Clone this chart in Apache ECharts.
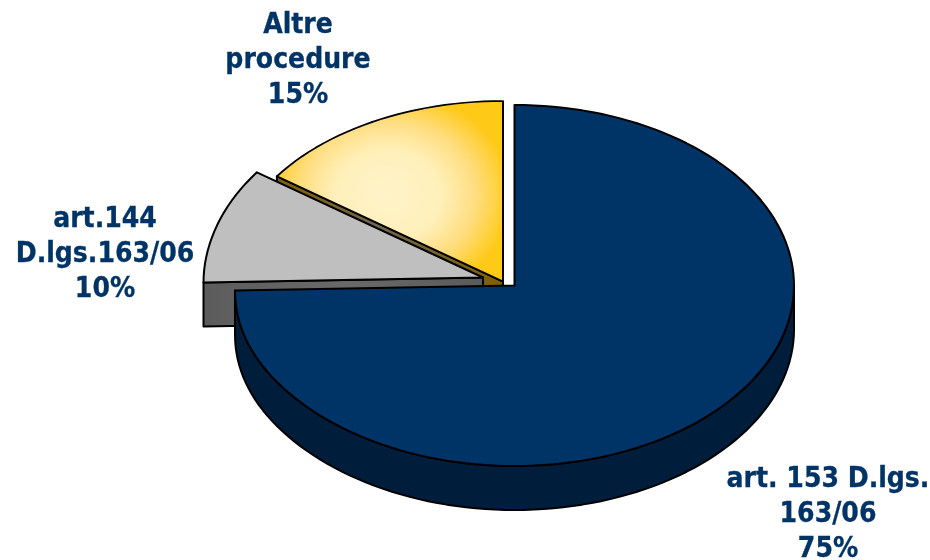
<!DOCTYPE html>
<html>
<head>
<meta charset="utf-8">
<title>Procedure</title>
<script src="https://cdn.jsdelivr.net/npm/echarts@6/dist/echarts.min.js"></script>
<style>
  html, body { margin: 0; padding: 0; background: #fff; }
  #chart { width: 930px; height: 560px; }
</style>
</head>
<body>
<div id="chart"></div>
<script>
const categories = ['art. 153 D.lgs.\n163/06', 'art.144\nD.lgs.163/06', 'Altre\nprocedure'];
const shares = [75, 10, 15];

// drawing layout, one entry per slice
const apex = [[514.5, 285.5], [483, 277.5], [503, 281.5]];
const labelAt = [[828, 515], [105, 255], [298, 61]];
const drawOrder = [3, 2, 1]; // navy goes on top of grey, grey on top of yellow
const rx = 279.5, ry = 180.5, depth = 44;
const dip = 5; // the left end of the pie sags a little

// yellow top is squashed so its round gradient comes out elliptical
const glow = { x: 388, y: 195, r: 124, squash: 0.84 };

const chart = echarts.init(document.getElementById('chart'), null, { renderer: 'canvas' });

function point(c, deg, dy) {
  const a = deg * Math.PI / 180;
  const s = Math.sin(a);
  return [c[0] + rx * s, c[1] - ry * Math.cos(a) + (s < 0 ? dip * Math.pow(s, 8) : 0) + (dy || 0)];
}

function arc(c, from, to) {
  const pts = [];
  const n = Math.ceil(Math.abs(to - from) / 2);
  for (let i = 0; i <= n; i++) pts.push(point(c, from + (to - from) * i / n));
  return pts;
}

function down(p) {
  return [p[0], p[1] + depth];
}

const total = shares.reduce((a, b) => a + b, 0);
const edge = { stroke: '#000', lineWidth: 2, lineJoin: 'round', strokeNoScale: true };

const tops = [
  '#003366',
  '#bfbfbf',
  new echarts.graphic.RadialGradient(glow.x, glow.y, glow.r, [
    { offset: 0, color: '#fff3c8' },
    { offset: 0.42, color: '#fff0bb' },
    { offset: 0.7, color: '#ffde82' },
    { offset: 1, color: '#ffc917' }
  ], true)
];
const walls = [
  '#001d3c',
  new echarts.graphic.LinearGradient(205, 0, 483, 0, [
    { offset: 0, color: '#5c5c5c' },
    { offset: 0.5, color: '#6a6a6a' },
    { offset: 1, color: '#5a5a5a' }
  ], true),
  new echarts.graphic.LinearGradient(276, 0, 503, 0, [
    { offset: 0, color: '#7f6000' },
    { offset: 0.45, color: '#6f654f' },
    { offset: 1, color: '#7f6000' }
  ], true)
];

function renderSlice(params, api) {
  const i = params.dataIndex;
  const before = shares.slice(0, i).reduce((a, b) => a + b, 0);
  const start = before / total * 360;
  const end = (before + api.value(0)) / total * 360;
  const c = apex[i];
  const z = drawOrder[i] * 10;
  const rim = arc(c, start, end);
  const children = [];

  let wall;
  if (i === 0) {
    // only the front half of the rim is seen
    const front = arc(c, 90, end);
    wall = front.concat(front.map(down).reverse());
  } else {
    wall = [rim[0], c, down(c), down(rim[0])];
  }
  children.push({
    type: 'polygon',
    z2: z,
    shape: { points: wall },
    style: Object.assign({ fill: walls[i] }, edge)
  });

  let face = [c].concat(rim);
  const top = {
    type: 'polygon',
    z2: z + 1,
    style: Object.assign({ fill: tops[i] }, edge)
  };
  if (i === 2) {
    face = face.map(p => [p[0], glow.y + (p[1] - glow.y) / glow.squash]);
    top.scaleY = glow.squash;
    top.originX = glow.x;
    top.originY = glow.y;
  }
  top.shape = { points: face };
  children.push(top);

  children.push({
    type: 'text',
    z2: 100,
    style: {
      text: categories[i] + '\n' + api.value(0) + '%',
      x: labelAt[i][0],
      y: labelAt[i][1],
      fill: '#003366',
      stroke: '#003366',
      lineWidth: 0.3,
      font: 'bold 28px "DejaVu Sans Condensed", "DejaVu Sans"',
      lineHeight: 35,
      align: 'center',
      verticalAlign: 'middle'
    }
  });
  return { type: 'group', children: children };
}

chart.setOption({
  animation: false,
  backgroundColor: '#fff',
  series: [{
    type: 'custom',
    coordinateSystem: 'none',
    renderItem: renderSlice,
    data: shares
  }]
});
</script>
</body>
</html>
